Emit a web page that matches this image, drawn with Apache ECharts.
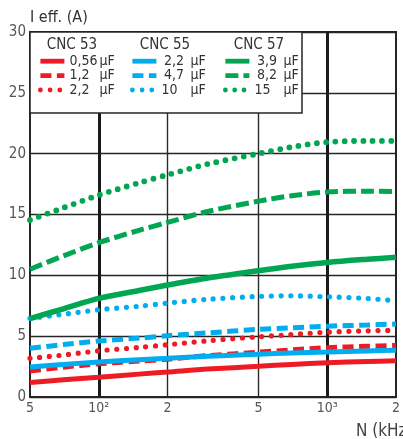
<!DOCTYPE html>
<html>
<head>
<meta charset="utf-8">
<script src="https://cdn.jsdelivr.net/npm/echarts@6/dist/echarts.min.js"></script>
<style>
  html, body { margin: 0; padding: 0; background: #fff; }
  #chart { width: 403px; height: 439px; }
</style>
</head>
<body>
<div id="chart"></div>
<script>
// Frequency points (kHz) shared by every curve
const freqs = [50, 70, 100, 150, 200, 300, 500, 700, 1000, 1500, 2000];

// CNC 53 (red)
const cnc53_056 = [1.19, 1.42, 1.63, 1.88, 2.05, 2.30, 2.52, 2.68, 2.82, 2.92, 2.97];
const cnc53_12  = [2.14, 2.45, 2.73, 2.95, 3.11, 3.40, 3.68, 3.87, 4.05, 4.17, 4.24];
const cnc53_22  = [3.18, 3.45, 3.80, 4.07, 4.30, 4.62, 4.95, 5.13, 5.33, 5.44, 5.48];

// CNC 55 (blue)
const cnc55_22  = [2.46, 2.68, 2.88, 3.06, 3.18, 3.35, 3.52, 3.62, 3.70, 3.79, 3.84];
const cnc55_47  = [4.00, 4.31, 4.60, 4.84, 5.04, 5.27, 5.56, 5.69, 5.82, 5.92, 6.00];
const cnc55_10  = [6.47, 6.80, 7.17, 7.46, 7.72, 8.03, 8.27, 8.32, 8.24, 8.10, 7.90];

// CNC 57 (green)
const cnc57_39  = [6.45, 7.25, 8.10, 8.75, 9.20, 9.78, 10.37, 10.75, 11.06, 11.32, 11.48];
const cnc57_82  = [10.50, 11.60, 12.68, 13.70, 14.35, 15.25, 16.10, 16.54, 16.85, 16.92, 16.88];
const cnc57_15  = [14.55, 15.55, 16.60, 17.60, 18.26, 19.15, 20.00, 20.55, 20.95, 21.05, 21.05];

// Axis ticks
const xTickValues = [50, 100, 200, 500, 1000, 2000];
const xTickLabels = ['5', '10²', '2', '5', '10³', '2'];
const xMajorLines = [100, 1000];
const xMinorLines = [200, 500];

const groupTitles = ['CNC 53', 'CNC 55', 'CNC 57'];
const groupColors = ['#ed1c24', '#00aeef', '#00a651'];
const groupCaps = [['0,56', '1,2', '2,2'], ['2,2', '4,7', '10'], ['3,9', '8,2', '15']];
const groupValues = [
  [cnc53_056, cnc53_12, cnc53_22],
  [cnc55_22, cnc55_47, cnc55_10],
  [cnc57_39, cnc57_82, cnc57_15]
];

const FONT = "'Liberation Sans Narrow', 'DejaVu Sans Condensed', 'Roboto Condensed', sans-serif";

// Line pattern per capacitor row: solid, dashed, dotted
function lineFor(row, color, g) {
  if (row === 0) return { color, width: g === 2 ? 5.5 : 5, type: 'solid', cap: 'butt' };
  if (row === 1) return { color, width: 5, type: g === 2 ? [13, 5] : [11, 5.5], cap: 'butt' };
  return { color, width: g === 2 ? 5.8 : 5.2, type: [0, g === 2 ? 9.3 : 9.7], cap: 'round' };
}

const series = [];
const labelOf = {};
groupTitles.forEach((title, g) => {
  groupCaps[g].forEach((cap, r) => {
    const name = title + ' ' + cap + ' µF';
    labelOf[name] = { cap, g };
    series.push({
      name,
      type: 'line',
      xAxisIndex: 0,
      data: freqs.map((f, i) => [f, groupValues[g][r][i]]),
      smooth: 0.3,
      symbol: 'none',
      lineStyle: lineFor(r, groupColors[g], g),
      color: groupColors[g],
      emphasis: { disabled: true },
      silent: true,
      z: 2
    });
  });
});

const numWidth = [30, 25, 25];
const legendLeft = [38, 130, 223];

const legends = groupTitles.map((title, g) => ({
  data: series.filter(s => labelOf[s.name].g === g).map(s => s.name),
  orient: 'vertical',
  left: legendLeft[g],
  top: 54,
  padding: 0,
  itemGap: 0,
  itemWidth: 24,
  itemHeight: 18,
  selectedMode: false,
  z: 6,
  itemStyle: { opacity: 0 },
  lineStyle: { width: 4.8 },
  textStyle: {
    color: '#333',
    fontFamily: FONT,
    fontSize: 14,
    rich: {
      l: { width: numWidth[g], align: 'left', fontFamily: FONT, fontSize: 14, lineHeight: 18, color: '#333' },
      r: { width: numWidth[g], align: 'right', fontFamily: FONT, fontSize: 14, lineHeight: 18, color: '#333' },
      u: { padding: [0, 0, 0, g === 0 ? 0 : 4], fontFamily: FONT, fontSize: 14, lineHeight: 18, color: '#333' }
    }
  },
  formatter: name => {
    const cap = labelOf[name].cap;
    const style = (g === 0 || cap.indexOf(',') < 0) ? 'l' : 'r';
    return '{' + style + '|' + cap + '}{u|µF}';
  }
}));

function xLabel(value) {
  let idx = 0, best = Infinity;
  xTickValues.forEach((v, i) => {
    const d = Math.abs(Math.log(v) - Math.log(value));
    if (d < best) { best = d; idx = i; }
  });
  return xTickLabels[idx];
}

const chart = echarts.init(document.getElementById('chart'), null, { renderer: 'canvas' });
chart.setOption({
  animation: false,
  backgroundColor: '#fff',
  grid: {
    left: 30, right: 7, top: 32, bottom: 42,
    show: true, borderColor: '#262626', borderWidth: 2, backgroundColor: 'transparent'
  },
  xAxis: [
    {
      type: 'log', logBase: 10, min: 50, max: 2000,
      axisLine: { show: false },
      axisTick: { show: false, customValues: xMajorLines },
      splitLine: { show: true, lineStyle: { color: '#1a1a1a', width: 3 } },
      axisLabel: {
        customValues: xTickValues,
        margin: 4,
        formatter: xLabel,
        fontFamily: FONT, fontSize: 14, color: '#555'
      }
    },
    {
      type: 'log', logBase: 10, min: 50, max: 2000,
      axisLine: { show: false },
      axisTick: { show: false, customValues: xMinorLines },
      axisLabel: { show: false },
      splitLine: { show: true, lineStyle: { color: '#2a2a2a', width: 1.4 } }
    }
  ],
  yAxis: {
    type: 'value', min: 0, max: 30, interval: 5,
    axisLine: { show: false },
    axisTick: { show: false },
    axisLabel: { margin: 4, fontFamily: FONT, fontSize: 15, color: '#555' },
    splitLine: { show: true, lineStyle: { color: '#262626', width: 1.3 } }
  },
  legend: legends,
  graphic: [
    {
      type: 'rect', z: 5,
      shape: { x: 30, y: 32, width: 272, height: 81 },
      style: { fill: '#fff', stroke: '#262626', lineWidth: 1.5 }
    },
    ...groupTitles.map((t, g) => ({
      type: 'text', z: 6,
      x: [72, 165, 259][g], y: 45,
      style: { text: t, fontFamily: FONT, fontSize: 15, fill: '#333', textAlign: 'center', textVerticalAlign: 'middle' }
    })),
    {
      type: 'text', z: 6, x: 30, y: 18,
      style: { text: 'I eff. (A)', fontFamily: FONT, fontSize: 16, fill: '#333', textAlign: 'left', textVerticalAlign: 'middle' }
    },
    {
      type: 'text', z: 6, x: 356, y: 432,
      style: { text: 'N (kHz)', fontFamily: FONT, fontSize: 17, fill: '#444', textAlign: 'left', textVerticalAlign: 'middle' }
    }
  ],
  series
});
</script>
</body>
</html>
